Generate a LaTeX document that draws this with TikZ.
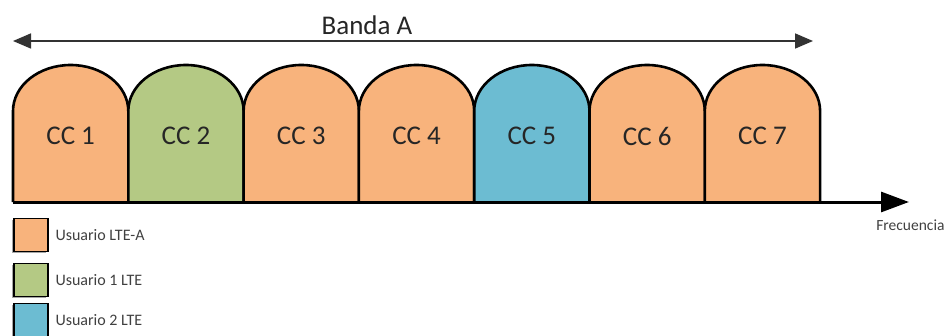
\documentclass[tikz,border=0pt]{standalone}
\usepackage{fontspec}
\setmainfont{Carlito}
\usetikzlibrary{arrows.meta}
\definecolor{ccorange}{HTML}{F8B37C}
\definecolor{ccgreen}{HTML}{B4C984}
\definecolor{ccblue}{HTML}{6CBCD2}
\definecolor{txtgray}{HTML}{262626}
\tikzset{
  ccbox/.style={draw=black, line width=2.6pt, line join=round},
  cclabel/.style={font=\fontsize{27}{30}\selectfont, text=txtgray},
  legbox/.style={draw=black, line width=1.6pt, minimum width=34pt, minimum height=33pt, inner sep=0pt},
  legshadow/.style={fill=gray!70, minimum width=34pt, minimum height=33pt, inner sep=0pt},
  legtext/.style={font=\fontsize{16}{18}\selectfont, text=black!75, anchor=west},
}
\begin{document}
\begin{tikzpicture}[x=1pt,y=1pt]
\useasboundingbox (0,0) rectangle (950,335);
% carrier boxes
\foreach \i/\c in {1/ccorange,2/ccgreen,3/ccorange,4/ccorange,5/ccblue,6/ccorange,7/ccorange}{
  \pgfmathsetmacro{\xl}{13+115.3*(\i-1)}
  \fill[\c] (\xl,133) -- (\xl,224) arc[start angle=180,end angle=0,x radius=57.65,y radius=46] -- (\xl+115.3,133) -- cycle;
  \draw[ccbox] (\xl,133) -- (\xl,224) arc[start angle=180,end angle=0,x radius=57.65,y radius=46] -- (\xl+115.3,133);
  \node[cclabel] (cc\i) at (\xl+57.65,199) {CC \i};
}
% frequency axis
\coordinate (axs) at (13,133);
\coordinate (axe) at (909,133);
\draw[line width=3pt, -{Triangle[length=28pt,width=20pt]}] (axs) -- (axe);
\node[font=\fontsize{15.5}{17}\selectfont, text=black!75, anchor=east] (freq) at (948,110) {Frecuencia};
% band arrow
\coordinate (bl) at (13,294);
\coordinate (br) at (813,294);
\draw[line width=1.6pt, draw=black!80, {Triangle[length=18pt,width=15pt]}-{Triangle[length=18pt,width=15pt]}] (bl) -- (br);
\node[font=\fontsize{27}{30}\selectfont, text=txtgray] (banda) at (367,310) {Banda A};
% legend
\foreach \j/\c/\t/\y in {1/ccorange/{Usuario LTE-A}/100, 2/ccgreen/{Usuario 1 LTE}/55, 3/ccblue/{Usuario 2 LTE}/15}{
  \node[legshadow] at (29,\y-1) {};
  \node[legbox, fill=\c] (leg\j) at (31,\y) {};
  \node[legtext] (legt\j) at (52,\y) {\t};
}
\end{tikzpicture}
\end{document}
